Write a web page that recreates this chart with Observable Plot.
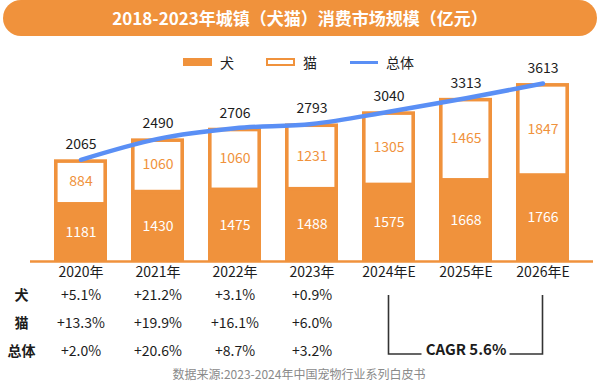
<!DOCTYPE html>
<html>
<head>
<meta charset="utf-8">
<script src="https://cdn.jsdelivr.net/npm/d3@7"></script>
<script src="https://cdn.jsdelivr.net/npm/@observablehq/plot@0.6"></script>
<style>
  html, body { margin: 0; padding: 0; background: #fff; }
  body { width: 600px; height: 387px; position: relative; overflow: hidden;
         font-family: "Noto Sans CJK SC", "Noto Sans", sans-serif; }
  #title { position: absolute; left: 3px; top: 0; width: 594px; height: 36px;
           border-radius: 18px; background: #F0923C; color: #fff; font-weight: 700;
           font-size: 17px; line-height: 36px; text-align: center; }
  #chart { position: absolute; left: 0; top: 38px; }
  .lg { position: absolute; }
  .lgt { position: absolute; top: 52px; font-size: 14px; line-height: 20px; color: #222; transform: translateX(-50%); }
</style>
</head>
<body>
<div id="title">2018-2023年城镇（犬猫）消费市场规模（亿元）</div>
<div class="lg" style="left:183px;top:58px;width:29px;height:8px;background:#F0923C"></div>
<div class="lgt" style="left:227px">犬</div>
<div class="lg" style="left:266px;top:58px;width:25px;height:4px;border:2.5px solid #F0923C;background:#fff"></div>
<div class="lgt" style="left:310px">猫</div>
<div class="lg" style="left:350px;top:60.5px;width:28px;height:3px;background:#5A8FF5"></div>
<div class="lgt" style="left:400px">总体</div>
<div id="chart"></div>
<script>
const years = ["2020年", "2021年", "2022年", "2023年", "2024年E", "2025年E", "2026年E"];
const dogValues = [1181, 1430, 1475, 1488, 1575, 1668, 1766];
const catValues = [884, 1060, 1060, 1231, 1305, 1465, 1847];
const totalValues = [2065, 2490, 2706, 2793, 3040, 3313, 3613];
const growthYears = ["2020年", "2021年", "2022年", "2023年"];
const dogGrowth = [5.1, 21.2, 3.1, 0.9];
const catGrowth = [13.3, 19.9, 16.1, 6.0];
const totalGrowth = [2.0, 20.6, 8.7, 3.2];
const rowLabels = ["犬", "猫", "总体"];
const cagrFrom = "2024年E", cagrTo = "2026年E", cagrMid = "2025年E";
const cagrText = "CAGR 5.6%";
const sourceText = "数据来源:2023-2024年中国宠物行业系列白皮书";

const ORANGE = "#F0923C", BLUE = "#5A8FF5", DARK = "#1c1c1c";
const rows = years.map((year, i) => ({year, dog: dogValues[i], cat: catValues[i], total: totalValues[i]}));
const fmt = v => `+${v.toFixed(1)}%`;
const growthRow = (arr) => growthYears.map((year, i) => ({year, v: fmt(arr[i])}));
const rowOffsets = [38, 66, 94];
const rowLabelMark = (i) => Plot.text([rowLabels[i]], {text: d => d, frameAnchor: "bottom-left", dx: -9,
  textAnchor: "middle", dy: rowOffsets[i], fill: DARK, fontSize: 14, fontWeight: 700});

const plot = Plot.plot({
  width: 600, height: 349,
  marginTop: 26, marginBottom: 126, marginLeft: 30, marginRight: 7,
  style: {fontFamily: '"Noto Sans CJK SC", "Noto Sans", sans-serif', fontSize: "14px", background: "transparent"},
  x: {domain: years, paddingInner: 0.316, paddingOuter: 0.29, axis: null},
  y: {domain: [0, 4000], axis: null},
  marks: [
    Plot.barY(rows, {x: "year", y: "dog", fill: ORANGE}),
    Plot.rectY(rows, {x: "year", y1: "dog", y2: "total", fill: "#fff", stroke: ORANGE, strokeWidth: 3.6,
      insetLeft: 1.8, insetRight: 1.8, insetTop: 1.8, insetBottom: -1}),
    Plot.ruleY([0], {stroke: ORANGE, strokeWidth: 2.5}),
    Plot.line(rows, {x: "year", y: "total", stroke: BLUE, strokeWidth: 4.5, curve: "monotone-x"}),
    Plot.text(rows, {x: "year", y: "total", text: d => String(d.total), dy: -15, fill: DARK, fontSize: 14}),
    Plot.text(rows, {x: "year", y: d => (d.dog + d.total) / 2, text: d => String(d.cat), fill: ORANGE, fontSize: 14}),
    Plot.text(rows, {x: "year", y: d => d.dog / 2, text: d => String(d.dog), fill: "#fff", fontSize: 14}),
    Plot.text(years, {x: d => d, frameAnchor: "bottom", dy: 15, fill: DARK, fontSize: 14}),
    Plot.text(growthRow(dogGrowth), {x: "year", text: "v", frameAnchor: "bottom", dy: rowOffsets[0], fill: DARK, fontSize: 14}),
    Plot.text(growthRow(catGrowth), {x: "year", text: "v", frameAnchor: "bottom", dy: rowOffsets[1], fill: DARK, fontSize: 14}),
    Plot.text(growthRow(totalGrowth), {x: "year", text: "v", frameAnchor: "bottom", dy: rowOffsets[2], fill: DARK, fontSize: 14}),
    rowLabelMark(0), rowLabelMark(1), rowLabelMark(2),
    Plot.text([cagrText], {x: () => cagrMid, text: d => d, frameAnchor: "bottom", dy: 93, fill: DARK, fontSize: 15, fontWeight: 700}),
    Plot.text([sourceText], {text: d => d, frameAnchor: "bottom", dx: -13, dy: 117, fill: "#8a8a8a", fontSize: 12})
  ]
});

// CAGR bracket, positioned through the plot's own scales
const xs = plot.scale("x"), ys = plot.scale("y");
const cx = v => xs.apply(v) + xs.bandwidth / 2;
const base = ys.apply(0);
const xa = cx(cagrFrom), xb = cx(cagrTo), xm = cx(cagrMid);
const yTop = base + 34, yBot = base + 93;
const g = d3.select(plot).append("g").attr("fill", "none").attr("stroke", "#333").attr("stroke-width", 1.6);
g.append("path").attr("d", `M${xa},${yTop}V${yBot}H${xm - 44}`);
g.append("path").attr("d", `M${xm + 44},${yBot}H${xb}V${yTop}`);

document.getElementById("chart").appendChild(plot);
</script>
</body>
</html>
